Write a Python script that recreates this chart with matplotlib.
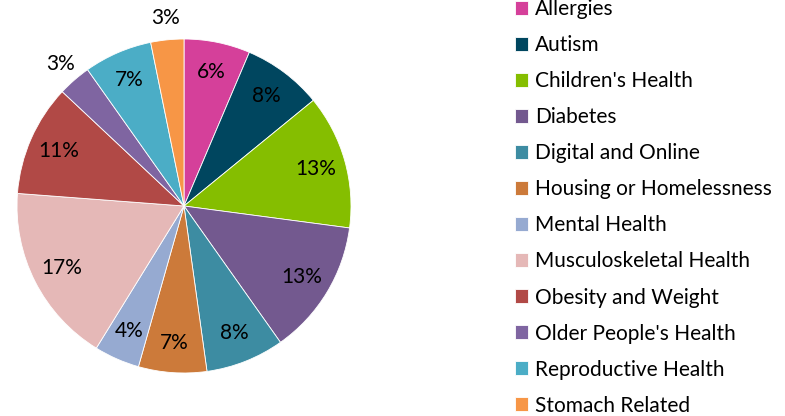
import numpy as np
import matplotlib.pyplot as plt

# Share of topics (percent)
categories = ['Allergies', 'Autism', "Children's Health", 'Diabetes', 'Digital and Online',
              'Housing or Homelessness', 'Mental Health', 'Musculoskeletal Health',
              'Obesity and Weight', "Older People's Health", 'Reproductive Health', 'Stomach Related']
values = [6.4, 7.7, 13.0, 13.1, 7.6, 6.6, 4.4, 17.4, 10.8, 3.2, 6.6, 3.2]
colors = ['#D5409A', '#00465F', '#85BE00', '#73598F', '#3D8CA2', '#CC7A3A',
          '#96AAD1', '#E5B8B7', '#B14946', '#7F65A1', '#4BADC6', '#F79646']

plt.rcParams['font.family'] = ['Lato', 'DejaVu Sans']
fs = 15

fig = plt.figure(figsize=(7.85, 4.16), dpi=100)
ax = fig.add_axes([17 / 785, (416 - 373) / 416, 334 / 785, 334 / 416])

wedges, texts, autotexts = ax.pie(values, colors=colors, startangle=90, counterclock=False,
                                  autopct='%.0f%%', pctdistance=0.82,
                                  wedgeprops=dict(edgecolor='white', linewidth=0.6),
                                  textprops=dict(fontsize=fs, color='black'))

# small slices get their label outside the pie
for w, t, v in zip(wedges, autotexts, values):
    if v < 4:
        ang = np.deg2rad((w.theta1 + w.theta2) / 2)
        r = 1.13
        t.set_position((r * np.cos(ang), r * np.sin(ang)))

ax.set_xlim(-1, 1)
ax.set_ylim(-1, 1)
ax.set_aspect('equal')

leg = fig.legend(wedges, categories, loc='upper left', bbox_to_anchor=(507 / 785, 1.022),
                 frameon=False, fontsize=fs, handlelength=0.63, handleheight=0.63,
                 handletextpad=0.3, labelspacing=0.77, borderaxespad=0)

fig.savefig('out.png', dpi=100)
